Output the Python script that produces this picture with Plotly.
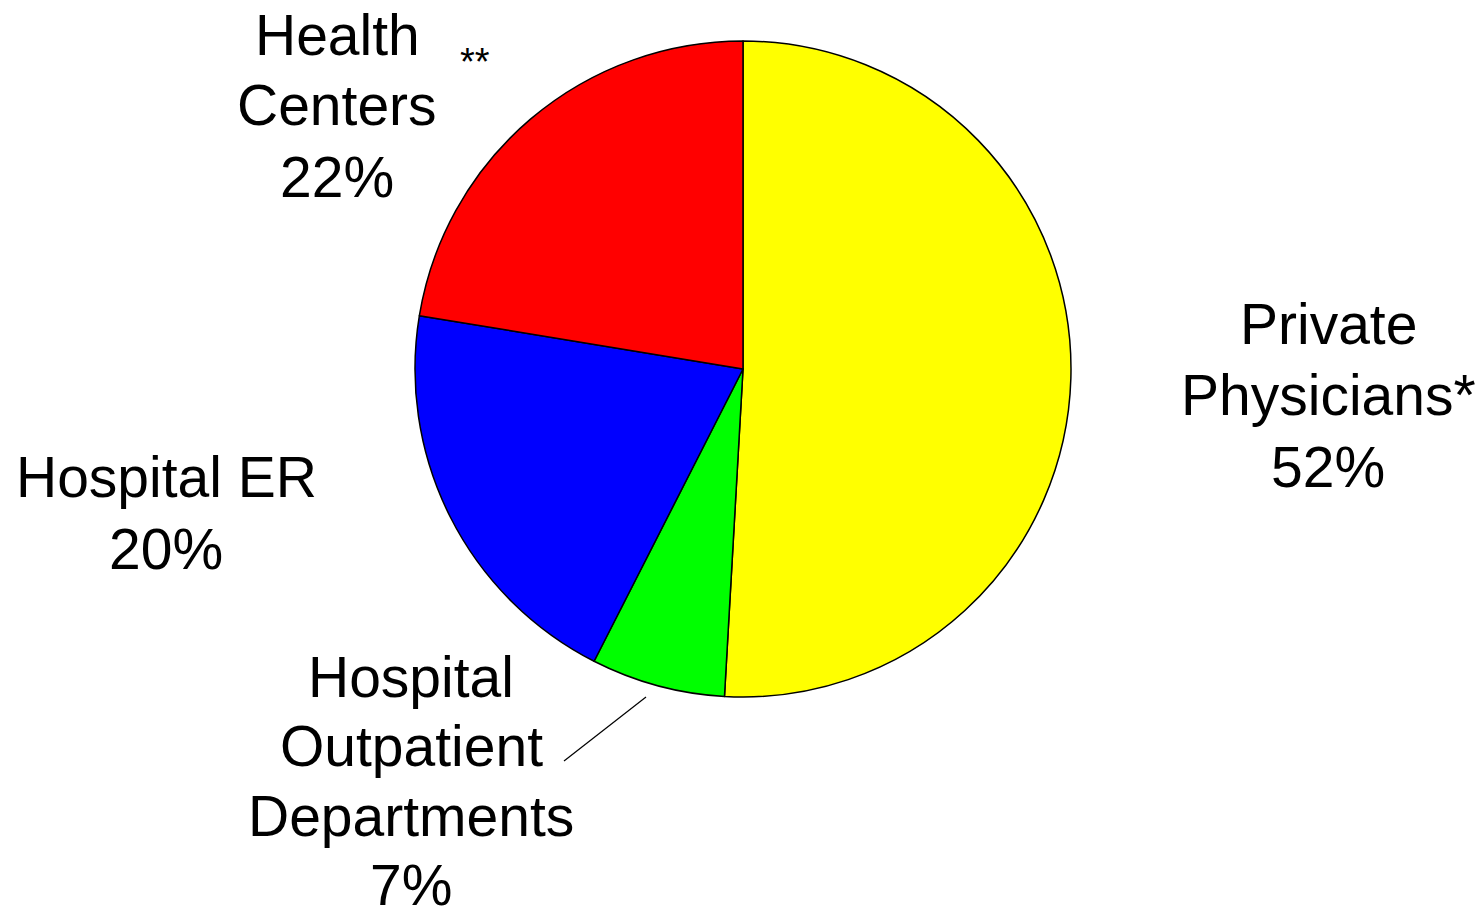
import plotly.graph_objects as go

categories = ["Private Physicians", "Hospital Outpatient Departments", "Hospital ER", "Health Centers"]
values = [50.9, 6.6, 20.1, 22.4]
colors = ["#FFFF00", "#00FF00", "#0000FF", "#FF0000"]

# Label lines (text) per category
label_lines = {
    "Private Physicians": ["Private", "Physicians*", "52%"],
    "Hospital Outpatient Departments": ["Hospital", "Outpatient", "Departments", "7%"],
    "Hospital ER": ["Hospital ER", "20%"],
    "Health Centers": ["Health", "Centers", "22%"],
}

# page body has an 8px margin, so the figure is drawn 8px in
OFF = 8
W, H = 1484 - OFF, 909 - OFF
FONT = "Liberation Sans, Arial, sans-serif"
FS = 57

def px(x):
    return (x - OFF) / W

def py(y):
    return 1 - (y - OFF) / H

# Layout positions (pixels in the window) for label blocks: center x, list of line center y
label_pos = {
    "Private Physicians": (1328, [324, 395, 467]),
    "Hospital Outpatient Departments": (411, [677, 746, 816, 885]),
    "Hospital ER": (166, [477, 549]),
    "Health Centers": (337, [35, 105, 177]),
}

cx, cy, r = 743, 369, 328

fig = go.Figure(go.Pie(
    labels=categories,
    values=values,
    marker=dict(colors=colors, line=dict(color="black", width=1.5)),
    sort=False,
    direction="clockwise",
    rotation=0,
    textinfo="none",
    hoverinfo="label",
    showlegend=False,
    domain=dict(x=[px(cx - r), px(cx + r)], y=[py(cy + r), py(cy - r)]),
))

annotations = []
for cat in categories:
    x, ys = label_pos[cat]
    for line, y in zip(label_lines[cat], ys):
        annotations.append(dict(
            x=px(x), y=py(y), xref="paper", yref="paper",
            text=line, showarrow=False, xanchor="center", yanchor="middle",
            font=dict(family=FONT, size=FS, color="black"),
        ))

# Footnote marker
annotations.append(dict(
    x=px(475), y=py(62), xref="paper", yref="paper",
    text="**", showarrow=False, xanchor="center", yanchor="middle",
    font=dict(family=FONT, size=38, color="black"),
))

fig.update_layout(
    width=W, height=H,
    margin=dict(l=0, r=0, t=0, b=0),
    paper_bgcolor="white",
    plot_bgcolor="white",
    annotations=annotations,
    shapes=[dict(type="line", xref="paper", yref="paper",
                 x0=px(564), y0=py(761), x1=px(646), y1=py(697),
                 line=dict(color="black", width=1.2))],
)

fig.write_html("out.html")
